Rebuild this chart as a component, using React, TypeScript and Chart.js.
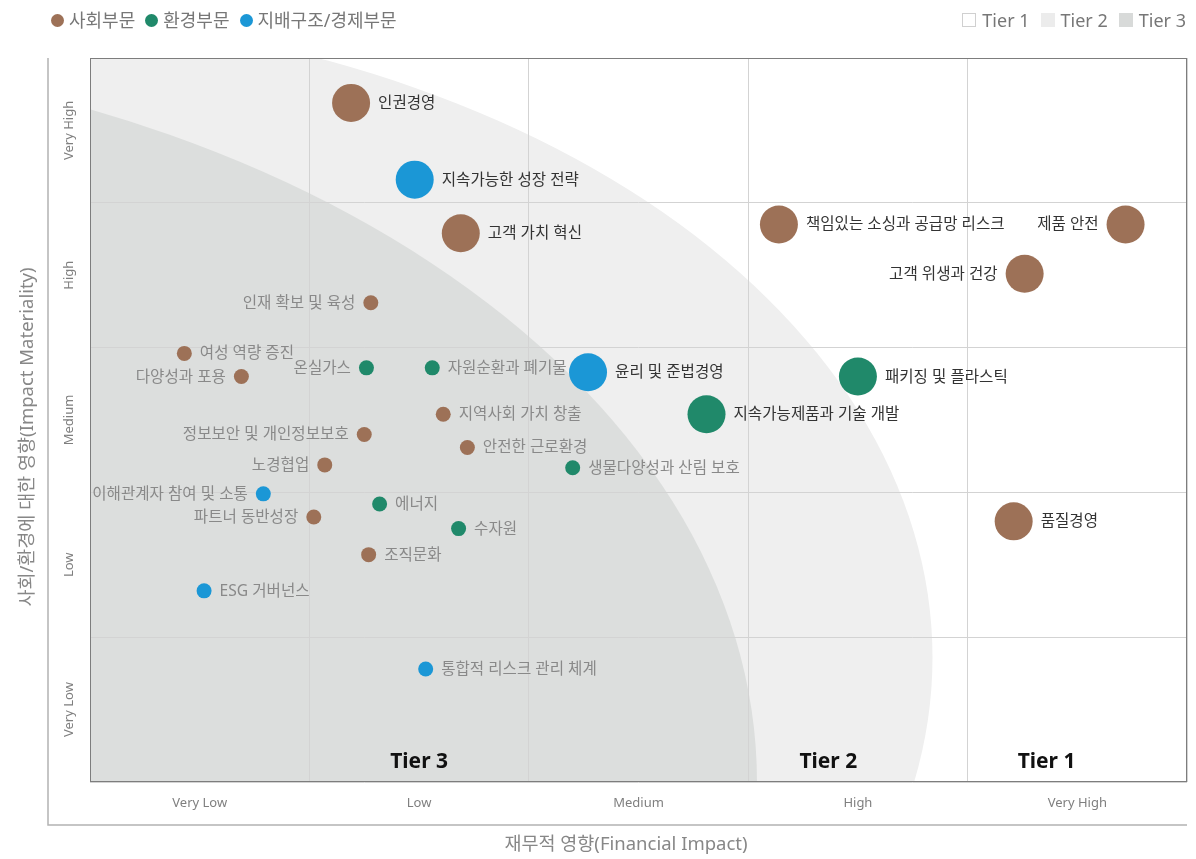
import React, { useEffect, useRef } from "react";
import { Chart, registerables } from "chart.js";

Chart.register(...registerables);

const FONT = '"Noto Sans", "Noto Sans CJK KR", sans-serif';

// Axis category labels (low -> high)
const xLabels = ["Very Low", "Low", "Medium", "High", "Very High"];
const yLabels = ["Very Low", "Low", "Medium", "High", "Very High"];
const xTitle = "재무적 영향(Financial Impact)";
const yTitle = "사회/환경에 대한 영향(Impact Materiality)";

// Categories
const categories = ["사회부문", "환경부문", "지배구조/경제부문"];
const categoryColors = ["#9d7157", "#20896a", "#1b97d6"];

// Issues
const issueNames = [
  "인권경영",
  "지속가능한 성장 전략",
  "고객 가치 혁신",
  "윤리 및 준법경영",
  "지속가능제품과 기술 개발",
  "책임있는 소싱과 공급망 리스크",
  "제품 안전",
  "고객 위생과 건강",
  "패키징 및 플라스틱",
  "품질경영",
  "인재 확보 및 육성",
  "여성 역량 증진",
  "다양성과 포용",
  "온실가스",
  "자원순환과 폐기물",
  "지역사회 가치 창출",
  "정보보안 및 개인정보보호",
  "안전한 근로환경",
  "생물다양성과 산림 보호",
  "노경협업",
  "이해관계자 참여 및 소통",
  "에너지",
  "파트너 동반성장",
  "수자원",
  "조직문화",
  "ESG 거버넌스",
  "통합적 리스크 관리 체계",
];
// Financial impact (x, 0..5 continuous; category i spans i..i+1)
const financialImpact = [
  1.19, 1.48, 1.69, 2.27, 2.81, 3.14, 4.72, 4.26, 3.5, 4.21,
  1.28, 0.43, 0.69, 1.26, 1.56, 1.61, 1.25, 1.72, 2.2, 1.07,
  0.79, 1.32, 1.02, 1.68, 1.27, 0.52, 1.53,
];
// Impact materiality (y)
const impactMateriality = [
  4.69, 4.16, 3.79, 2.83, 2.54, 3.85, 3.85, 3.51, 2.8, 1.8,
  3.31, 2.96, 2.8, 2.86, 2.86, 2.54, 2.4, 2.31, 2.17, 2.19,
  1.99, 1.92, 1.83, 1.75, 1.57, 1.32, 0.78,
];
// 0 = 사회, 1 = 환경, 2 = 지배구조/경제
const issueCategory = [
  0, 2, 0, 2, 1, 0, 0, 0, 1, 0,
  0, 0, 0, 1, 1, 0, 0, 0, 1, 0,
  2, 1, 0, 1, 0, 2, 2,
];
// Material (core) issue -> large bubble
const isMaterial = [
  true, true, true, true, true, true, true, true, true, true,
  false, false, false, false, false, false, false, false, false, false,
  false, false, false, false, false, false, false,
];
// Label placement relative to bubble
const labelSide = [
  "right", "right", "right", "right", "right", "right", "left", "left", "right", "right",
  "left", "right", "left", "left", "right", "right", "left", "right", "right", "left",
  "left", "right", "left", "right", "right", "right", "right",
];

// Tier zones (data units: centre & radius)
const tierNames = ["Tier 1", "Tier 2", "Tier 3"];
const tierColors = ["#ffffff", "#efefef", "#dcdedd"];
const tierZoneCenterX = [0, -0.62, -2.03];
const tierZoneCenterY = [0, 0.86, 0];
const tierZoneRadius = [0, 4.46, 5.07];
const tierLabelX = [4.36, 3.365, 1.5];
const tierLabelY = [0.14, 0.14, 0.14];

const zonesPlugin = {
  id: "tierZones",
  beforeDraw(chart: any) {
    const { ctx, chartArea, scales } = chart;
    const xs = scales.x;
    const ys = scales.y;
    ctx.save();
    ctx.beginPath();
    ctx.rect(chartArea.left, chartArea.top, chartArea.width, chartArea.height);
    ctx.clip();
    ctx.fillStyle = tierColors[0];
    ctx.fillRect(chartArea.left, chartArea.top, chartArea.width, chartArea.height);
    for (let t = 1; t < tierNames.length; t++) {
      const cx = xs.getPixelForValue(tierZoneCenterX[t]);
      const cy = ys.getPixelForValue(tierZoneCenterY[t]);
      const rx = Math.abs(xs.getPixelForValue(tierZoneCenterX[t] + tierZoneRadius[t]) - cx);
      const ry = Math.abs(ys.getPixelForValue(tierZoneCenterY[t] + tierZoneRadius[t]) - cy);
      ctx.beginPath();
      ctx.ellipse(cx, cy, rx, ry, 0, 0, Math.PI * 2);
      ctx.fillStyle = tierColors[t];
      ctx.fill();
    }
    ctx.restore();
  },
};

const labelsPlugin = {
  id: "bubbleLabels",
  afterDatasetsDraw(chart: any) {
    const { ctx } = chart;
    ctx.save();
    ctx.textBaseline = "middle";
    ctx.font = `15.6px ${FONT}`;
    chart.data.datasets.forEach((ds: any, di: number) => {
      const meta = chart.getDatasetMeta(di);
      meta.data.forEach((el: any, i: number) => {
        const d = ds.data[i];
        ctx.fillStyle = d.major ? "#333333" : "#898989";
        const gap = d.r + 8;
        if (d.side === "left") {
          ctx.textAlign = "right";
          ctx.fillText(d.name, el.x - gap, el.y + 0.5);
        } else {
          ctx.textAlign = "left";
          ctx.fillText(d.name, el.x + gap, el.y + 0.5);
        }
      });
    });
    ctx.restore();
  },
};

const decorPlugin = {
  id: "decor",
  afterDraw(chart: any) {
    const { ctx, chartArea, scales } = chart;
    const xs = scales.x;
    const ys = scales.y;
    const { left, right, top, bottom } = chartArea;
    ctx.save();
    // plot border
    ctx.strokeStyle = "#7d7d7d";
    ctx.lineWidth = 1;
    ctx.strokeRect(left + 0.5, top + 0.5, right - left - 1, bottom - top - 1);
    // outer frame
    const frameX = left - 42;
    const frameY = bottom + 43;
    ctx.strokeStyle = "#b3b3b3";
    ctx.lineWidth = 1.5;
    ctx.beginPath();
    ctx.moveTo(frameX, top);
    ctx.lineTo(frameX, frameY);
    ctx.lineTo(right, frameY);
    ctx.stroke();

    // tick labels
    ctx.fillStyle = "#7f7f7f";
    ctx.font = `13px ${FONT}`;
    ctx.textAlign = "center";
    ctx.textBaseline = "middle";
    xLabels.forEach((lab, i) => {
      ctx.fillText(lab, xs.getPixelForValue(i + 0.5), (bottom + frameY) / 2);
    });
    yLabels.forEach((lab, i) => {
      ctx.save();
      ctx.translate((left + frameX) / 2, ys.getPixelForValue(i + 0.5));
      ctx.rotate(-Math.PI / 2);
      ctx.fillText(lab, 0, 0);
      ctx.restore();
    });

    // axis titles
    ctx.fillStyle = "#878787";
    ctx.font = `18.5px ${FONT}`;
    ctx.fillText(xTitle, 626, frameY + 20);
    ctx.save();
    ctx.translate(28, 437);
    ctx.rotate(-Math.PI / 2);
    ctx.fillText(yTitle, 0, 0);
    ctx.restore();

    // tier labels
    ctx.fillStyle = "#111111";
    ctx.font = `bold 21px ${FONT}`;
    tierNames.forEach((name, t) => {
      ctx.fillText(name, xs.getPixelForValue(tierLabelX[t]), ys.getPixelForValue(tierLabelY[t]));
    });
    ctx.restore();
  },
};

export default function App() {
  const canvasRef = useRef<HTMLCanvasElement | null>(null);

  useEffect(() => {
    if (!canvasRef.current) return;
    const datasets = categories.map((cat, c) => ({
      label: cat,
      backgroundColor: categoryColors[c],
      borderWidth: 0,
      data: issueNames
        .map((name, i) => ({
          x: financialImpact[i],
          y: impactMateriality[i],
          r: isMaterial[i] ? 19 : 7.5,
          name,
          major: isMaterial[i],
          side: labelSide[i],
          cat: issueCategory[i],
        }))
        .filter((d) => d.cat === c),
    }));

    const chart = new Chart(canvasRef.current, {
      type: "bubble",
      data: { datasets } as any,
      options: {
        responsive: false,
        animation: false,
        events: [],
        devicePixelRatio: 1,
        layout: { padding: { left: 90, top: 58, right: 0, bottom: 77 } },
        plugins: {
          legend: { display: false },
          tooltip: { enabled: false },
        },
        scales: {
          x: {
            type: "linear",
            min: 0,
            max: 5,
            ticks: { display: false, stepSize: 1 },
            grid: { color: "#d3d3d3", drawTicks: false, lineWidth: 1 },
            border: { display: false },
          },
          y: {
            type: "linear",
            min: 0,
            max: 5,
            ticks: { display: false, stepSize: 1 },
            grid: { color: "#d3d3d3", drawTicks: false, lineWidth: 1 },
            border: { display: false },
          },
        },
      } as any,
      plugins: [zonesPlugin, labelsPlugin, decorPlugin],
    });
    return () => chart.destroy();
  }, []);

  const legendText: React.CSSProperties = {
    fontFamily: FONT,
    fontSize: 18,
    color: "#777",
    lineHeight: "20px",
  };

  return (
    <div
      style={{
        position: "absolute",
        left: 0,
        top: 0,
        width: 1196,
        height: 859,
        overflow: "hidden",
        background: "#fff",
      }}
    >
      <canvas ref={canvasRef} width={1206} height={859} style={{ display: "block" }} />
      <div
        style={{
          position: "absolute",
          left: 51,
          top: 10,
          display: "flex",
          alignItems: "center",
        }}
      >
        {categories.map((c, i) => (
          <div key={c} style={{ display: "flex", alignItems: "center", marginRight: 10 }}>
            <span
              style={{
                width: 13,
                height: 13,
                borderRadius: 7,
                background: categoryColors[i],
                display: "inline-block",
                marginRight: 5,
              }}
            />
            <span style={legendText}>{c}</span>
          </div>
        ))}
      </div>
      <div
        style={{
          position: "absolute",
          right: 10,
          top: 10,
          display: "flex",
          alignItems: "center",
        }}
      >
        {tierNames.map((t, i) => (
          <div
            key={t}
            style={{ display: "flex", alignItems: "center", marginLeft: i === 0 ? 0 : 11 }}
          >
            <span
              style={{
                width: 14,
                height: 14,
                boxSizing: "border-box",
                background: i === 0 ? "#fff" : i === 1 ? "#ececec" : "#d8dad9",
                border: i === 0 ? "1px solid #d0d0d0" : "none",
                display: "inline-block",
                marginRight: 6,
              }}
            />
            <span style={legendText}>{t}</span>
          </div>
        ))}
      </div>
    </div>
  );
}
